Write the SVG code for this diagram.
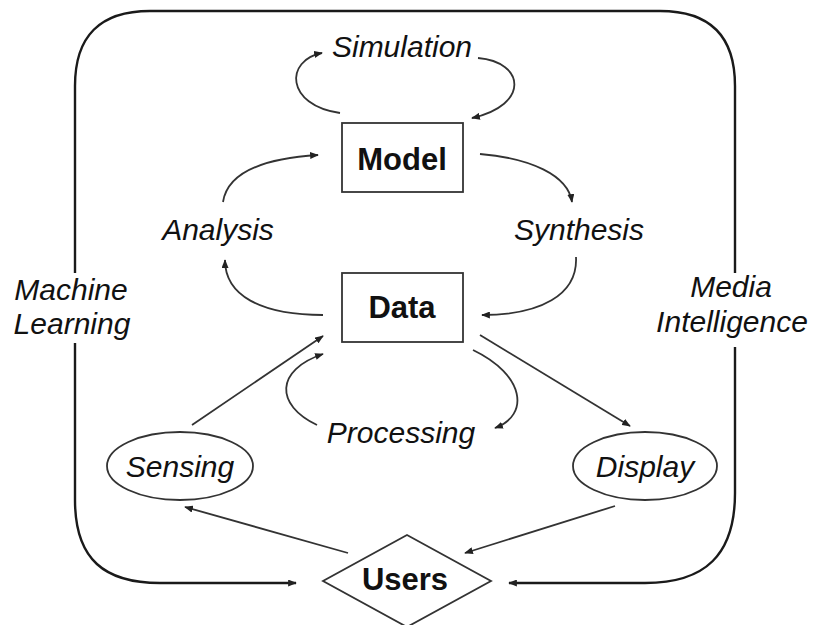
<svg xmlns="http://www.w3.org/2000/svg" width="821" height="625" viewBox="0 0 821 625">
  <defs>
    <marker id="arrow" viewBox="0 0 10 8" refX="9" refY="4" markerWidth="9" markerHeight="7" markerUnits="userSpaceOnUse" orient="auto">
      <path d="M0,0 L10,4 L0,8 z" fill="#222"/>
    </marker>
    <style>
      .frame { fill: none; stroke: #1a1a1a; stroke-width: 2.4; }
      .link { fill: none; stroke: #333; stroke-width: 1.8; marker-end: url(#arrow); }
      .box { fill: #fff; stroke: #333; stroke-width: 1.8; }
      .it { font-family: "Liberation Sans", Arial, sans-serif; font-style: italic; font-size: 30px; fill: #111; text-anchor: middle; }
      .bd { font-family: "Liberation Sans", Arial, sans-serif; font-weight: bold; font-size: 31px; fill: #111; text-anchor: middle; }
    </style>
  </defs>
  <rect width="821" height="625" fill="#fff"/>

  <!-- outer loop: Machine Learning (left) and Media Intelligence (right) -->
  <g id="outer-frame">
    <path class="frame" d="M75,273 L75,86 Q75,11 150,11 L660,11 Q735,11 735,86 L735,273"/>
    <path class="frame" d="M75,343 L75,500 C75,560 105,583 160,583 L296,583" marker-end="url(#arrow)"/>
    <path class="frame" d="M735,347 L735,493 C735,555 705,583 645,583 L509,583" marker-end="url(#arrow)"/>
    <text class="it" x="71" y="300">Machine</text>
    <text class="it" x="72" y="334">Learning</text>
    <text class="it" x="731" y="297">Media</text>
    <text class="it" x="732" y="332">Intelligence</text>
  </g>

  <!-- connectors -->
  <g id="connectors">
    <!-- simulation loop -->
    <path class="link" d="M340,113 C285,105 285,60 322,53"/>
    <path class="link" d="M478,58 C525,62 530,105 472,118"/>
    <!-- analysis -->
    <path class="link" d="M223,202 C228,170 270,158 318,155"/>
    <path class="link" d="M323,315 C260,315 225,295 225,260"/>
    <!-- synthesis -->
    <path class="link" d="M480,154 C530,158 568,175 572,202"/>
    <path class="link" d="M576,257 C578,295 540,315 482,315"/>
    <!-- processing loop -->
    <path class="link" d="M317,425 C275,405 275,370 323,354"/>
    <path class="link" d="M473,350 C525,375 530,415 495,428"/>
    <!-- sensing / display -->
    <path class="link" d="M192,425 L323,336"/>
    <path class="link" d="M480,335 L630,426"/>
    <path class="link" d="M348,553 L185,507"/>
    <path class="link" d="M615,506 L465,553"/>
  </g>

  <g id="simulation">
    <text class="it" x="402" y="57">Simulation</text>
  </g>
  <g id="model">
    <rect class="box" x="342" y="123" width="121" height="69"/>
    <text class="bd" x="402" y="170">Model</text>
  </g>
  <g id="analysis">
    <text class="it" x="218" y="240">Analysis</text>
  </g>
  <g id="synthesis">
    <text class="it" x="579" y="240">Synthesis</text>
  </g>
  <g id="data">
    <rect class="box" x="342" y="273" width="121" height="69"/>
    <text class="bd" x="402" y="318">Data</text>
  </g>
  <g id="processing">
    <text class="it" x="401" y="443">Processing</text>
  </g>
  <g id="sensing">
    <ellipse class="box" cx="180" cy="466" rx="73" ry="34"/>
    <text class="it" x="180" y="477" font-size="31">Sensing</text>
  </g>
  <g id="display">
    <ellipse class="box" cx="645" cy="466" rx="72" ry="34"/>
    <text class="it" x="645" y="477" font-size="31">Display</text>
  </g>
  <g id="users">
    <polygon class="box" points="407,535 491,581 407,627 323,581"/>
    <text class="bd" x="405" y="590">Users</text>
  </g>
</svg>
